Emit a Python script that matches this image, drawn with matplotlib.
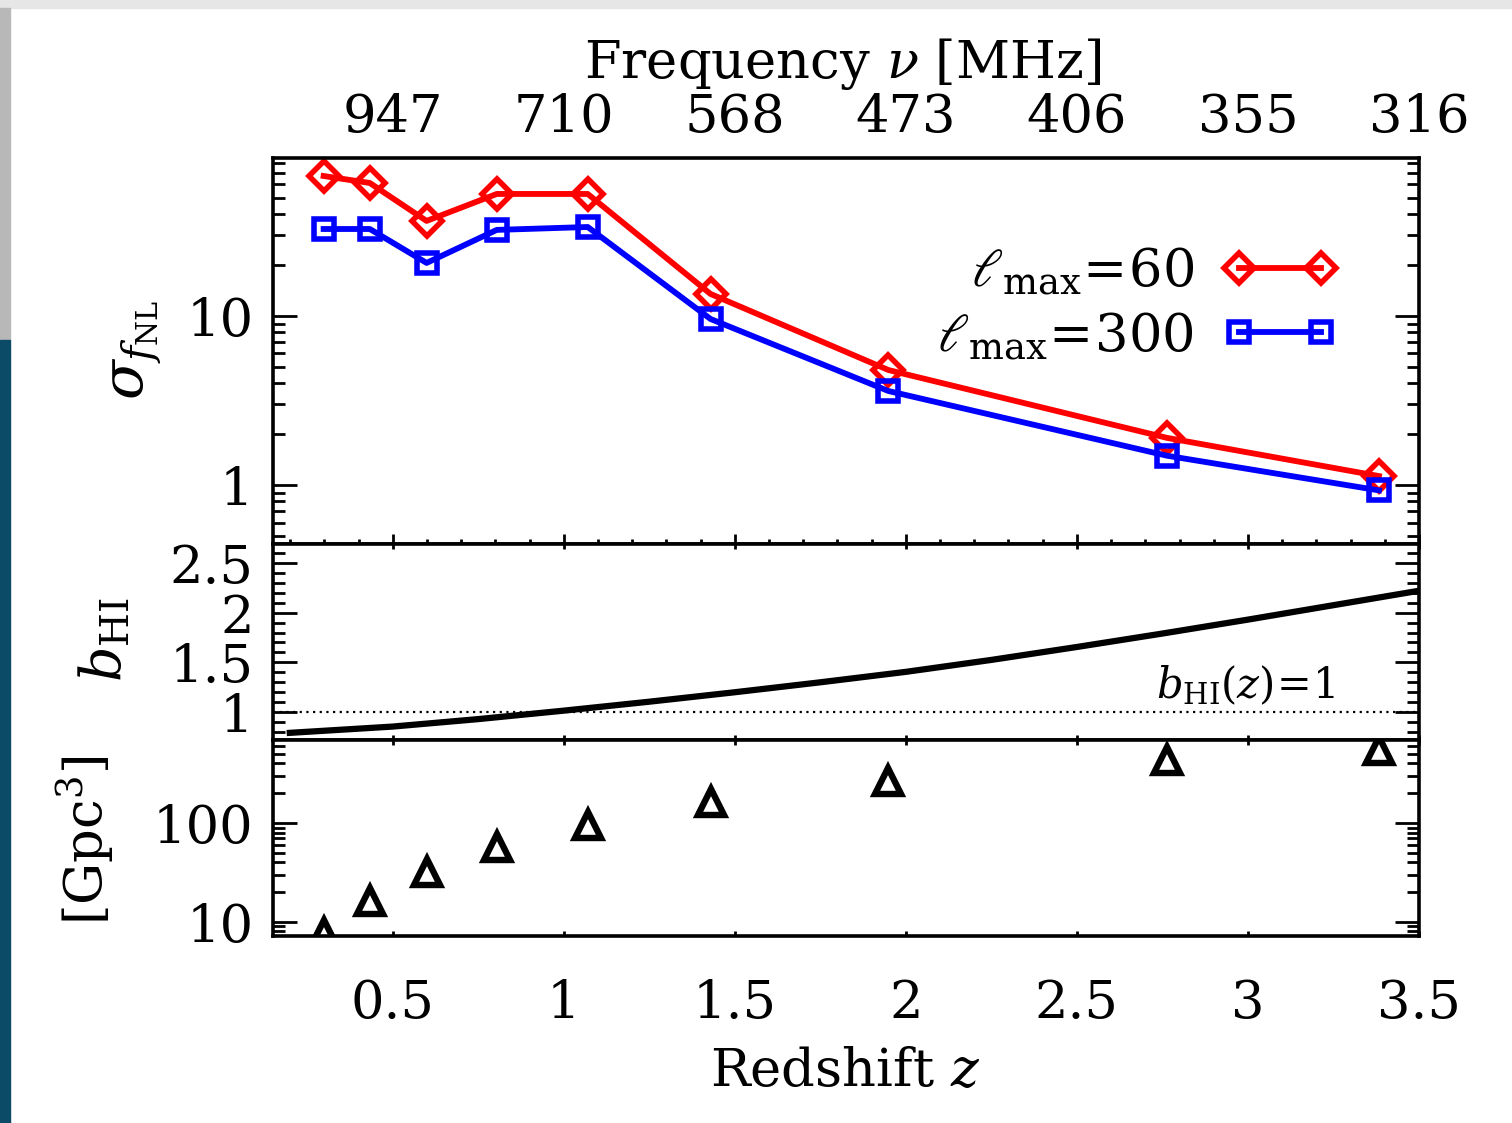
import matplotlib
matplotlib.use("Agg")
import matplotlib.pyplot as plt
from matplotlib.ticker import FuncFormatter, MultipleLocator, LogLocator, NullFormatter, NullLocator
from matplotlib.patches import Rectangle

plt.rcParams['font.family'] = 'DejaVu Serif'
plt.rcParams['mathtext.fontset'] = 'dejavuserif'

# redshift bin centres and forecasts
z_bins = [0.298, 0.433, 0.599, 0.804, 1.070, 1.429, 1.949, 2.764, 3.383]
sigma_lmax60 = [67.3, 61.2, 36.5, 52.7, 52.7, 13.5, 4.79, 1.90, 1.13]
sigma_lmax300 = [32.7, 32.7, 20.6, 32.3, 33.6, 9.6, 3.6, 1.49, 0.93]
volume_gpc3 = [7.7, 16.3, 32.0, 57.0, 95.0, 163.0, 266.0, 433.0, 547.0]

# HI bias curve
z_bias = [0.19, 0.5, 0.75, 1.0, 1.25, 1.5, 1.75, 2.0, 2.25, 2.5, 2.75, 3.0, 3.25, 3.5]
b_hi = [0.79, 0.855, 0.93, 1.015, 1.105, 1.20, 1.30, 1.405, 1.525, 1.655, 1.79, 1.93, 2.075, 2.22]

z_ticks = [0.5, 1, 1.5, 2, 2.5, 3, 3.5]
z_ticklabels = ['0.5', '1', '1.5', '2', '2.5', '3', '3.5']
freq_ticklabels = ['947', '710', '568', '473', '406', '355', '316']

W, H = 1512, 1123
fig = plt.figure(figsize=(W / 100, H / 100), dpi=100)

# bits of the slide around the screenshot
fig.patches.append(Rectangle((0, 1 - 8 / H), 1, 8 / H, transform=fig.transFigure,
                             color='#e6e6e6', zorder=-1))
fig.patches.append(Rectangle((0, 1 - 340 / H), 10 / W, 332 / H, transform=fig.transFigure,
                             color='#b8b8b8', zorder=-1))
fig.patches.append(Rectangle((0, 0), 10 / W, 1 - 340 / H, transform=fig.transFigure,
                             color='#0c4b68', zorder=-1))


def box(x0, y0, x1, y1):
    return [x0 / W, 1 - y1 / H, (x1 - x0) / W, (y1 - y0) / H]


ax1 = fig.add_axes(box(273, 158, 1419, 544))
ax2 = fig.add_axes(box(273, 544, 1419, 740))
ax3 = fig.add_axes(box(273, 740, 1419, 936))

fmt = FuncFormatter(lambda v, p: f'{v:g}')
FS = 38

for ax in (ax1, ax2, ax3):
    ax.set_xlim(0.15, 3.5)
    for s in ax.spines.values():
        s.set_linewidth(2.6)
    ax.set_xticks(z_ticks)
    ax.tick_params(axis='both', which='both', direction='in', top=True, right=True,
                   labelsize=FS, width=2.0)
    ax.tick_params(axis='y', which='major', length=17, pad=14)
    ax.tick_params(axis='y', which='minor', length=8.5)
    ax.tick_params(axis='x', which='major', length=3.5)
    ax.tick_params(axis='x', labelbottom=False)
    ax.xaxis.set_minor_locator(NullLocator())

# top panel: sigma(f_NL)
ax1.set_yscale('log')
ax1.set_ylim(0.448, 86)
ax1.yaxis.set_major_locator(LogLocator(base=10, numticks=10))
ax1.yaxis.set_minor_locator(LogLocator(base=10, subs=range(2, 10), numticks=20))
ax1.yaxis.set_major_formatter(fmt)
ax1.yaxis.set_minor_formatter(NullFormatter())
ax1.xaxis.set_minor_locator(MultipleLocator(0.1))
ax1.tick_params(axis='x', which='major', length=7)
ax1.tick_params(axis='x', which='minor', length=3.5)

ax1.plot(z_bins, sigma_lmax60, color='#ff0000', lw=4.2, marker='D', ms=15,
         mfc='none', mew=4, label=r'$\ell_{\rm max}\!=\!60$')
ax1.plot(z_bins, sigma_lmax300, color='#0000ff', lw=4.2, marker='s', ms=14,
         mfc='none', mew=4, label=r'$\ell_{\rm max}\!=\!300$')
ax1.legend(loc='center right', bbox_to_anchor=(0.928, 0.622), frameon=False,
           numpoints=2, markerfirst=False, handlelength=2.15, handletextpad=0.55,
           labelspacing=0.25, fontsize=FS, borderpad=0, borderaxespad=0)

top = ax1.twiny()
top.set_xlim(ax1.get_xlim())
top.set_xticks(z_ticks)
top.set_xticklabels(freq_ticklabels)
top.xaxis.set_minor_locator(NullLocator())
top.tick_params(axis='x', length=0, labelsize=FS, pad=11)
for s in top.spines.values():
    s.set_visible(False)

# middle panel: HI bias
ax2.set_ylim(0.72, 2.69)
ax2.yaxis.set_major_locator(MultipleLocator(0.5))
ax2.yaxis.set_minor_locator(MultipleLocator(0.1))
ax2.yaxis.set_major_formatter(fmt)
ax2.plot(z_bias, b_hi, color='black', lw=4.5, solid_capstyle='butt')
ax2.axhline(1.0, color='black', lw=1.6, ls=(0, (1, 2)))
ax2.text(0.927, 0.215, r'$b_{\rm HI}(z)\!=\!1$', transform=ax2.transAxes,
         ha='right', va='baseline', fontsize=30)

# bottom panel: survey volume
ax3.set_yscale('log')
ax3.set_ylim(7.2, 690)
ax3.yaxis.set_major_locator(LogLocator(base=10, numticks=10))
ax3.yaxis.set_minor_locator(LogLocator(base=10, subs=range(2, 10), numticks=20))
ax3.yaxis.set_major_formatter(fmt)
ax3.yaxis.set_minor_formatter(NullFormatter())
ax3.plot(z_bins, volume_gpc3, ls='none', marker='^', ms=19, mfc='none',
         mec='black', mew=4.6)
ax3.set_xticklabels(z_ticklabels)
ax3.tick_params(axis='x', labelbottom=True, pad=30)

# axis titles
fig.text(843 / W, 1 - 64 / H, r'Frequency $\nu$ [MHz]', ha='center', va='center', fontsize=FS)
fig.text(845 / W, 1 - 1071 / H, r'Redshift $z$', ha='center', va='center', fontsize=FS)
fig.text(136 / W, 1 - 350 / H, r'$\sigma_{f_{\rm NL}}$', ha='center', va='center',
         rotation=90, fontsize=FS + 4)
fig.text(105 / W, 1 - 640 / H, r'$b_{\rm HI}$', ha='center', va='center',
         rotation=90, fontsize=FS + 2)
fig.text(85 / W, 1 - 840 / H, r'[Gpc$^3$]', ha='center', va='center',
         rotation=90, fontsize=FS)

fig.savefig('out.png', dpi=100)
